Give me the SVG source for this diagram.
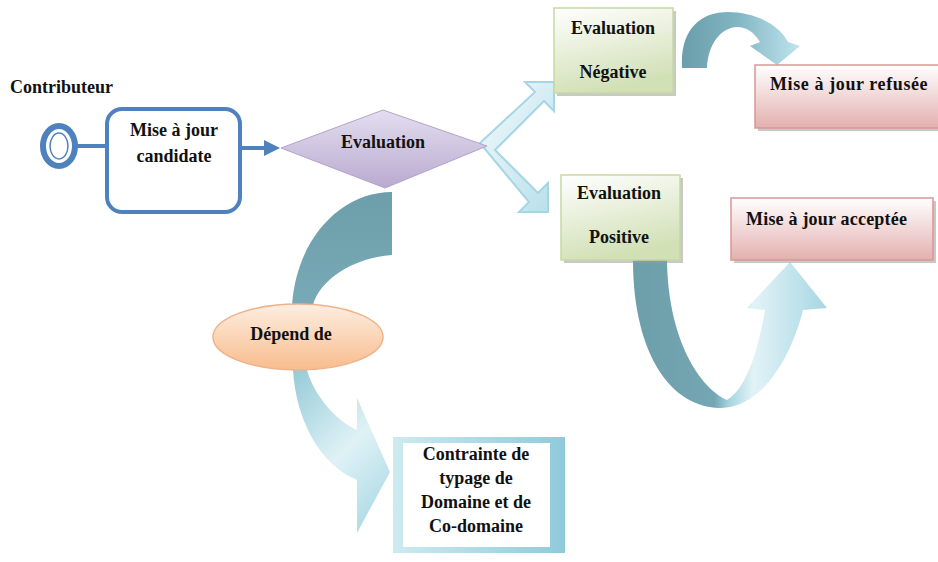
<svg xmlns="http://www.w3.org/2000/svg" width="938" height="562" viewBox="0 0 938 562">
  <defs>
    <style>
      .lbl { font-family: "Liberation Serif", "Times New Roman", serif; font-weight: bold; font-size: 18px; fill: #111; }
      .mid { text-anchor: middle; }
      .blue { fill: none; stroke: #4f81bd; stroke-width: 4; }
      .shadow { fill: #9a9a9a; opacity: 0.55; }
    </style>
    <linearGradient id="gPurple" x1="0" y1="0" x2="0" y2="1">
      <stop offset="0" stop-color="#e4def0"/>
      <stop offset="1" stop-color="#b9aacf"/>
    </linearGradient>
    <linearGradient id="gGreen" x1="0" y1="0" x2="0.3" y2="1">
      <stop offset="0" stop-color="#ffffff"/>
      <stop offset="1" stop-color="#d2e0b6"/>
    </linearGradient>
    <linearGradient id="gPink" x1="0" y1="0" x2="0" y2="1">
      <stop offset="0" stop-color="#ffffff"/>
      <stop offset="1" stop-color="#e3b0af"/>
    </linearGradient>
    <linearGradient id="gOrange" x1="0" y1="0" x2="0" y2="1">
      <stop offset="0" stop-color="#fdeee2"/>
      <stop offset="1" stop-color="#f8bc8c"/>
    </linearGradient>
    <linearGradient id="gChevron" x1="0" y1="0" x2="1" y2="1">
      <stop offset="0" stop-color="#f4fbfd"/>
      <stop offset="1" stop-color="#b7dfea"/>
    </linearGradient>
    <linearGradient id="gArcTop" x1="0" y1="0" x2="1" y2="0">
      <stop offset="0" stop-color="#6a9eab"/>
      <stop offset="0.45" stop-color="#80b4c1"/>
      <stop offset="1" stop-color="#bfe4ee"/>
    </linearGradient>
    <linearGradient id="gArcBig" x1="0" y1="0" x2="1" y2="0">
      <stop offset="0" stop-color="#6d9fab"/>
      <stop offset="0.42" stop-color="#74a7b3"/>
      <stop offset="0.5" stop-color="#a9d6e1"/>
      <stop offset="0.62" stop-color="#e2f3f7"/>
      <stop offset="1" stop-color="#a6d7e3"/>
    </linearGradient>
    <linearGradient id="gArcLeft" x1="0" y1="0" x2="0" y2="1">
      <stop offset="0" stop-color="#6d9fab"/>
      <stop offset="1" stop-color="#77aab6"/>
    </linearGradient>
    <linearGradient id="gArcDown" x1="0" y1="0" x2="0.6" y2="1">
      <stop offset="0" stop-color="#96cad7"/>
      <stop offset="0.6" stop-color="#dff2f6"/>
      <stop offset="1" stop-color="#b4dde8"/>
    </linearGradient>
    <linearGradient id="gFrame" x1="0" y1="0" x2="1" y2="0">
      <stop offset="0" stop-color="#cdeaf1"/>
      <stop offset="1" stop-color="#8fcadb"/>
    </linearGradient>
  </defs>

  <rect width="938" height="562" fill="#ffffff"/>

  <!-- connectors -->
  <g id="connectors">
    <!-- start event to task -->
    <line x1="77" y1="146" x2="107" y2="146" stroke="#4f81bd" stroke-width="4"/>
    <!-- task to gateway -->
    <line x1="241" y1="148" x2="266" y2="148" stroke="#4f81bd" stroke-width="4"/>
    <polygon points="264,140 280,148 264,156" fill="#4f81bd"/>
    <!-- forked arrow from the gateway -->
    <polygon points="480,143 535,92 525,82 554,82 554,111 544,101 495,150 538,193 548,183 548,212 519,212 529,202"
             fill="url(#gChevron)" stroke="#a6d6e4" stroke-width="2" stroke-linejoin="miter"/>
    <!-- curved arrow: negative evaluation to refused update -->
    <path d="M682,68 C680,30 700,12 728,12 C755,12 780,25 788,42 L800,46 L777,65 L750,46 L760,42 C754,32 746,27 737,27 C720,28 708,45 707,68 Z"
          fill="url(#gArcTop)"/>
    <!-- curved arrow: positive evaluation to accepted update -->
    <path d="M633,260 C633,345 665,405 718,408 C762,410 792,355 803,310 L827,308 L790,262 L747,308 L765,310 C758,350 747,388 727,400 C700,388 668,340 667,260 Z"
          fill="url(#gArcBig)"/>
    <!-- curved arrow: gateway to dependency -->
    <path d="M392,192 C340,192 296,240 292,306 L313,305 C320,280 352,258 392,255 Z"
          fill="url(#gArcLeft)"/>
    <!-- curved arrow: dependency to constraint -->
    <path d="M293,370 C296,420 320,465 357,480 L357,533 L390,472 L357,398 L357,430 C335,420 314,395 307,370 Z"
          fill="url(#gArcDown)"/>
  </g>

  <!-- actor label -->
  <g id="actor">
    <text class="lbl" x="10" y="93">Contributeur</text>
  </g>

  <!-- start event -->
  <g id="start">
    <ellipse cx="59" cy="146" rx="16" ry="20" fill="none" stroke="#4f81bd" stroke-width="6"/>
    <ellipse cx="59" cy="146" rx="9" ry="13" fill="none" stroke="#4f81bd" stroke-width="1.5"/>
  </g>

  <!-- task -->
  <g id="candidate">
    <rect class="blue" x="107" y="109" width="133" height="103" rx="15" fill="#ffffff"/>
    <text class="lbl mid" x="174" y="136">Mise à jour</text>
    <text class="lbl mid" x="174" y="162">candidate</text>
  </g>

  <!-- gateway -->
  <g id="evaluation">
    <polygon points="281,148 383,110 487,146 385,188" fill="url(#gPurple)" stroke="#b3a3c9" stroke-width="1"/>
    <text class="lbl mid" x="383" y="148">Evaluation</text>
  </g>

  <!-- negative evaluation -->
  <g id="negative">
    <rect class="shadow" x="557" y="11" width="119" height="85"/>
    <rect x="554" y="8" width="119" height="85" fill="url(#gGreen)" stroke="#c6d9a2" stroke-width="1.5"/>
    <text class="lbl mid" x="613" y="34">Evaluation</text>
    <text class="lbl mid" x="613" y="78">Négative</text>
  </g>

  <!-- refused update -->
  <g id="refused">
    <rect class="shadow" x="758" y="68" width="185" height="63"/>
    <rect x="755" y="65" width="185" height="63" fill="url(#gPink)" stroke="#d99694" stroke-width="1.5"/>
    <text class="lbl" x="770" y="90" letter-spacing="0.6">Mise à jour refusée</text>
  </g>

  <!-- positive evaluation -->
  <g id="positive">
    <rect class="shadow" x="564" y="178" width="119" height="85"/>
    <rect x="561" y="175" width="119" height="85" fill="url(#gGreen)" stroke="#c6d9a2" stroke-width="1.5"/>
    <text class="lbl mid" x="619" y="199">Evaluation</text>
    <text class="lbl mid" x="619" y="243">Positive</text>
  </g>

  <!-- accepted update -->
  <g id="accepted">
    <rect class="shadow" x="734" y="201" width="202" height="62"/>
    <rect x="731" y="198" width="202" height="62" fill="url(#gPink)" stroke="#d99694" stroke-width="1.5"/>
    <text class="lbl" x="746" y="225" letter-spacing="0.2">Mise à jour acceptée</text>
  </g>

  <!-- dependency -->
  <g id="depend">
    <ellipse cx="298" cy="337" rx="85" ry="33" fill="url(#gOrange)" stroke="#efb28a" stroke-width="1.5"/>
    <text class="lbl mid" x="291" y="340">Dépend de</text>
  </g>

  <!-- constraint -->
  <g id="constraint">
    <rect x="393" y="437" width="172" height="116" fill="url(#gFrame)"/>
    <rect x="403" y="443" width="147" height="104" fill="#ffffff"/>
    <text class="lbl mid" x="476" y="460">Contrainte de</text>
    <text class="lbl mid" x="476" y="484">typage de</text>
    <text class="lbl mid" x="476" y="508">Domaine et de</text>
    <text class="lbl mid" x="476" y="532">Co-domaine</text>
  </g>
</svg>
